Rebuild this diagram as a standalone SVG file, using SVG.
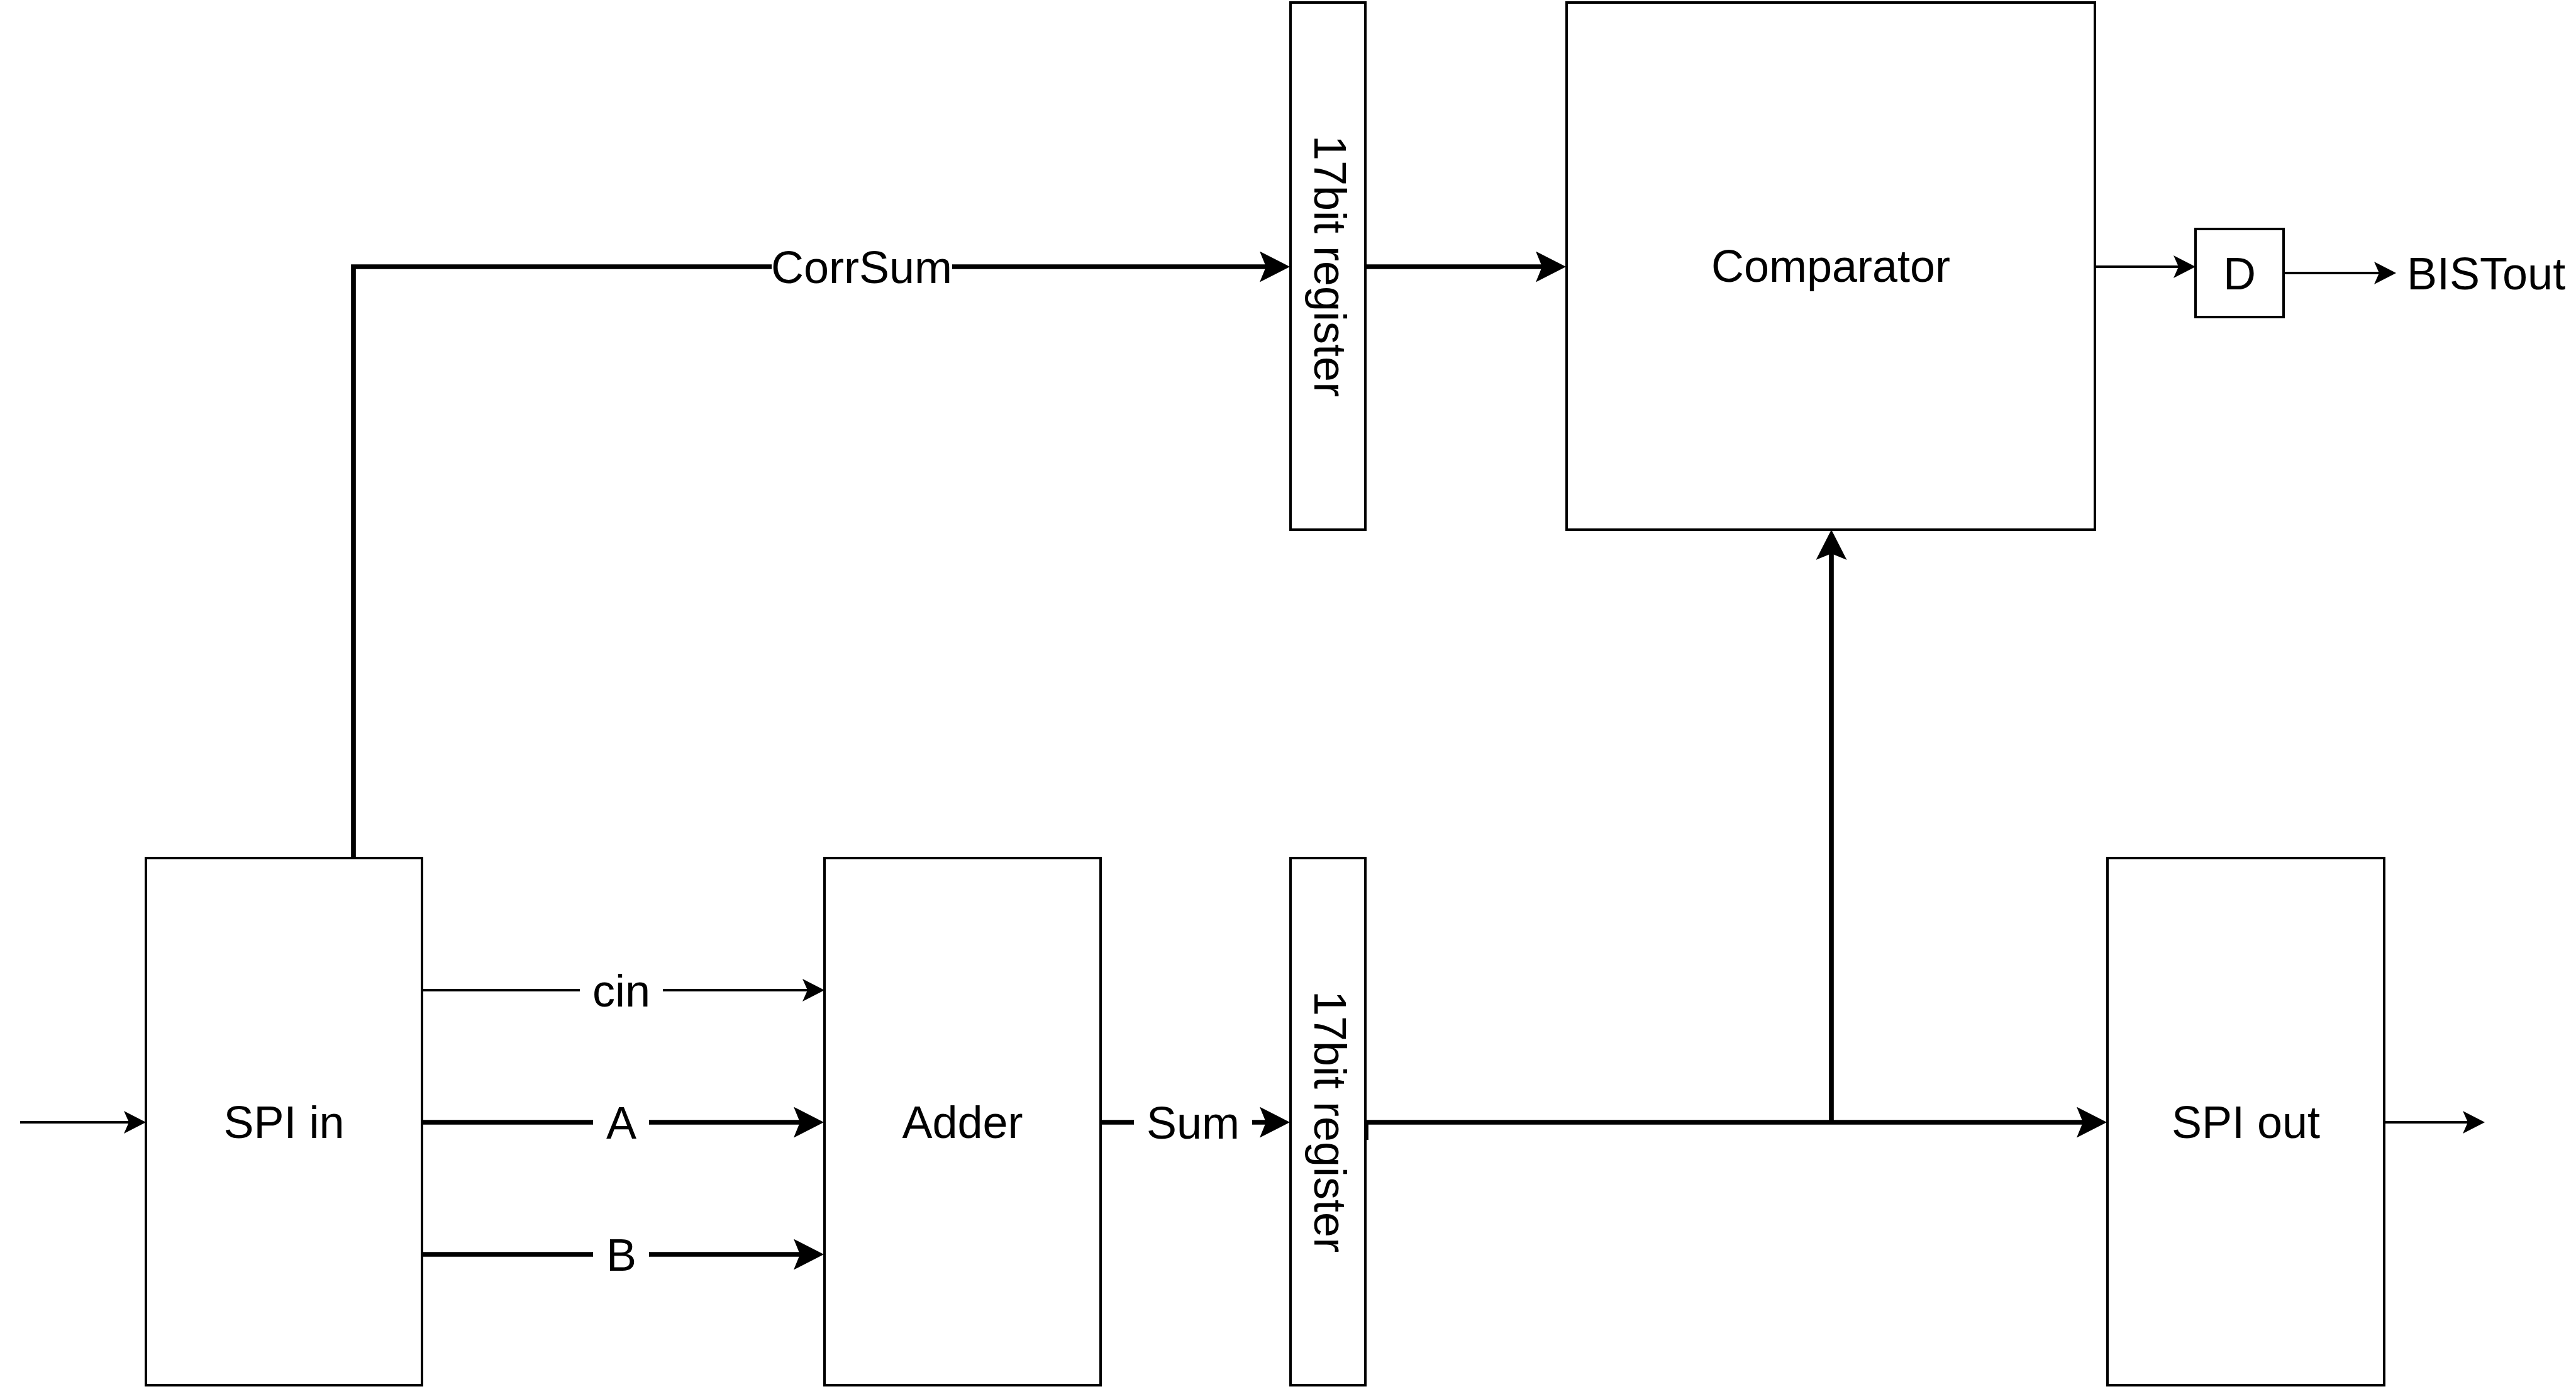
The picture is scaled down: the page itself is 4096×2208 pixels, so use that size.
<svg xmlns="http://www.w3.org/2000/svg" width="4096" height="2208" viewBox="0 0 4096 2208">
<style>
.box{fill:#fff;stroke:#000;stroke-width:4}
.t{font-family:"Liberation Sans",Arial,Helvetica,sans-serif;font-size:72px;fill:#000;text-anchor:middle}
.thin{fill:none;stroke:#000;stroke-width:4.2;marker-end:url(#aThin)}
.thick{fill:none;stroke:#000;stroke-width:7.7;marker-end:url(#aThick)}
.lbg{fill:#fff;stroke:none}
</style>
<defs>
<marker id="aThin" markerUnits="userSpaceOnUse" viewBox="0 0 35 36" markerWidth="35" markerHeight="36" refX="8" refY="18" orient="auto">
<path d="M0,0 L35,18 L0,36 L8,18 Z" fill="#000"/>
</marker>
<marker id="aThick" markerUnits="userSpaceOnUse" viewBox="0 0 48 49" markerWidth="48" markerHeight="49" refX="10" refY="24.5" orient="auto">
<path d="M0,0 L48,24.5 L0,49 L10,24.5 Z" fill="#000"/>
</marker>
</defs>
<rect width="4096" height="2208" fill="#fff"/>
<g id="connectors">
<path class="thin" d="M32 1784 H205"/>
<path class="thin" d="M672 1574 H1284"/>
<path class="thick" d="M672 1784 H1272"/>
<path class="thick" d="M672 1994 H1272"/>
<path class="thick" d="M1751 1784 H2013"/>
<path class="thick" d="M2172 1812 V1784 H3312"/>
<path class="thick" d="M2912 1784 V880"/>
<path class="thick" d="M562 1364 V424 H2013"/>
<path class="thick" d="M2172 424 H2452"/>
<path class="thin" d="M3331 424 H3464"/>
<path class="thin" d="M3631 434 H3783"/>
<path class="thin" d="M3792 1784 H3924"/>
<g id="labels">
<rect class="lbg" x="922" y="1534" width="132" height="80"/>
<text class="t" x="988" y="1600">cin</text>
<rect class="lbg" x="943" y="1744" width="89" height="80"/>
<text class="t" x="988" y="1810">A</text>
<rect class="lbg" x="943" y="1954" width="89" height="80"/>
<text class="t" x="988" y="2020">B</text>
<rect class="lbg" x="1803" y="1744" width="188" height="80"/>
<text class="t" x="1897" y="1810">Sum</text>
<rect class="lbg" x="1227" y="384" width="287" height="80"/>
<text class="t" x="1370" y="450">CorrSum</text>
<text class="t" x="3827" y="460" style="text-anchor:start">BISTout</text>
</g>
</g>
<g id="spi_in">
<rect class="box" x="232" y="1364" width="439" height="838"/>
<text class="t" x="451.5" y="1809">SPI in</text>
</g>
<g id="adder">
<rect class="box" x="1311" y="1364" width="439" height="838"/>
<text class="t" x="1530.5" y="1809">Adder</text>
</g>
<g id="reg_sum">
<rect class="box" x="2052" y="1364" width="119" height="838"/>
<text class="t" transform="translate(2090 1783) rotate(90)" x="0" y="0">17bit register</text>
</g>
<g id="reg_corrsum">
<rect class="box" x="2052" y="4" width="119" height="838"/>
<text class="t" transform="translate(2090 423) rotate(90)" x="0" y="0">17bit register</text>
</g>
<g id="comparator">
<rect class="box" x="2491" y="4" width="840" height="838"/>
<text class="t" x="2911" y="448">Comparator</text>
</g>
<g id="d_ff">
<rect class="box" x="3491" y="364" width="140" height="140"/>
<text class="t" x="3561" y="460">D</text>
</g>
<g id="spi_out">
<rect class="box" x="3351" y="1364" width="440" height="838"/>
<text class="t" x="3571" y="1809">SPI out</text>
</g>
</svg>
